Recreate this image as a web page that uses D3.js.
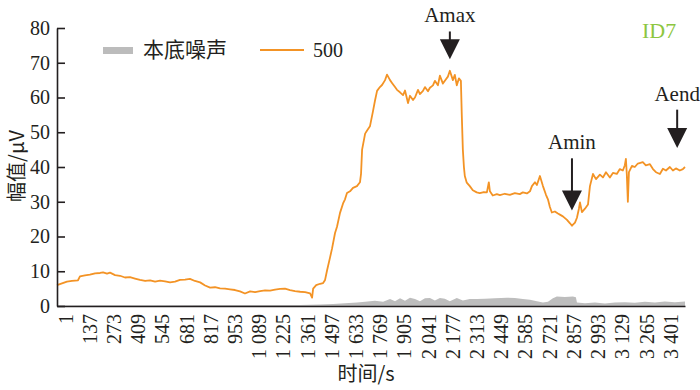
<!DOCTYPE html>
<html>
<head>
<meta charset="utf-8">
<script src="https://cdn.jsdelivr.net/npm/d3@7"></script>
<style>
  body { margin: 0; background: #fff; }
  svg text { font-family: 'Liberation Serif', 'Times New Roman', 'Noto Sans CJK SC', serif; fill: #231f20; }
</style>
</head>
<body>
<div id="chart"></div>
<script>
// time (s) and amplitude (μV) of the 500 series
const signalTime = [
  -44, -16, 12, 40, 74, 85, 113, 141, 170, 198, 215, 237, 254, 282, 310, 338, 366, 394, 422, 451,
  479, 507, 535, 563, 591, 619, 647, 675, 703, 731, 760, 788, 816, 844, 872, 900, 928, 956, 984, 1012,
  1041, 1069, 1097, 1125, 1153, 1181, 1209, 1237, 1265, 1293, 1322, 1350, 1378, 1389, 1395, 1412, 1434, 1451, 1462, 1473,
  1490, 1501, 1518, 1529, 1546, 1563, 1574, 1585, 1602, 1619, 1641, 1658, 1664, 1670, 1687, 1698, 1714, 1731, 1742, 1754,
  1770, 1782, 1799, 1810, 1827, 1838, 1855, 1866, 1883, 1900, 1911, 1928, 1939, 1956, 1967, 1984, 1995, 2012, 2023, 2040,
  2051, 2068, 2079, 2096, 2107, 2124, 2135, 2152, 2163, 2180, 2191, 2202, 2214, 2225, 2230, 2236, 2242, 2247, 2258, 2275,
  2292, 2314, 2331, 2354, 2371, 2382, 2388, 2404, 2427, 2444, 2472, 2500, 2528, 2556, 2573, 2596, 2613, 2624, 2641, 2652,
  2669, 2686, 2703, 2714, 2725, 2736, 2753, 2770, 2781, 2798, 2821, 2838, 2849, 2866, 2877, 2888, 2894, 2905, 2922, 2939,
  2950, 2967, 2984, 3006, 3023, 3040, 3062, 3079, 3101, 3118, 3135, 3146, 3152, 3157, 3163, 3169, 3186, 3202, 3219, 3247,
  3264, 3287, 3304, 3321, 3343, 3360, 3377, 3399, 3416, 3433, 3455, 3472, 3484
];
const signalValue = [
  6.0, 6.5, 7.0, 7.2, 7.4, 8.5, 8.8, 9.0, 9.4, 9.5, 9.7, 9.3, 9.6, 8.9, 8.7, 8.2, 8.3, 7.9, 7.5, 7.2,
  7.4, 7.0, 7.3, 7.1, 6.8, 7.0, 7.5, 7.6, 7.8, 7.2, 6.8, 5.9, 5.3, 5.4, 5.1, 5.0, 4.8, 4.6, 4.2, 3.6,
  4.2, 4.0, 4.3, 4.5, 4.4, 4.7, 4.9, 5.0, 4.6, 4.3, 4.1, 4.0, 3.6, 2.4, 5.0, 6.0, 6.4, 6.6, 7.5, 10.2,
  14.0, 16.5, 21.0, 22.8, 26.8, 29.5, 30.7, 32.5, 33.0, 34.0, 34.5, 35.6, 38.0, 45.0, 49.6, 50.5, 51.7, 56.0, 59.0, 61.9,
  63.0, 63.6, 65.0, 66.6, 65.0, 64.2, 63.0, 62.2, 61.5, 60.7, 62.0, 58.4, 60.5, 59.3, 60.0, 62.2, 61.0, 61.9, 63.0, 61.8,
  62.8, 63.5, 64.8, 63.5, 66.3, 64.0, 64.8, 66.0, 67.7, 65.0, 66.5, 63.5, 65.5, 64.8, 55.0, 45.0, 40.0, 37.4, 35.5, 34.5,
  33.3, 32.7, 32.5, 32.8, 32.7, 35.6, 33.0, 31.8, 32.2, 31.9, 32.3, 32.0, 32.5, 32.2, 32.7, 32.4, 33.0, 34.5, 35.6, 34.8,
  37.4, 34.5, 32.0, 30.7, 28.5, 26.9, 27.2, 26.6, 26.3, 25.8, 24.8, 23.8, 23.1, 24.0, 25.4, 28.0, 29.8, 27.0, 28.0, 29.2,
  34.5, 38.0, 36.5, 37.8, 37.0, 38.5, 37.0, 38.3, 38.0, 39.4, 39.0, 40.5, 42.3, 38.0, 30.0, 38.5, 40.3, 40.0, 41.0, 41.4,
  40.5, 40.8, 39.4, 38.5, 38.0, 39.5, 39.0, 40.0, 39.0, 39.6, 39.0, 39.4, 40.0
];

// background noise (本底噪声)
const noiseTime = [
  -44, 198, 479, 760, 1041, 1322, 1434, 1507, 1574, 1641, 1687, 1742, 1788, 1827, 1855, 1883, 1911, 1939, 1967, 1995,
  2023, 2051, 2079, 2107, 2135, 2163, 2202, 2236, 2275, 2314, 2360, 2416, 2483, 2528, 2573, 2613, 2652, 2686, 2714, 2742,
  2764, 2809, 2854, 2871, 2877, 2922, 2978, 3034, 3090, 3146, 3202, 3259, 3315, 3371, 3427, 3484
];
const noiseValue = [
  0.15, 0.2, 0.2, 0.3, 0.3, 0.3, 0.4, 0.6, 0.8, 1.0, 1.2, 1.5, 1.2, 2.0, 1.4, 2.2, 1.5, 2.4, 2.0, 1.4,
  2.2, 2.3, 1.6, 2.3, 2.1, 1.4, 2.3, 1.6, 2.0, 2.0, 2.1, 2.2, 2.4, 2.3, 2.0, 1.8, 1.4, 1.0, 1.2, 2.2,
  2.7, 2.6, 2.7, 2.5, 1.0, 0.8, 1.0, 0.7, 1.0, 1.1, 0.9, 1.2, 1.0, 1.3, 1.1, 1.3
];

const xTickValues = [1, 137, 273, 409, 545, 681, 817, 953, 1089, 1225, 1361, 1497, 1633, 1769, 1905, 2041, 2177, 2313, 2449, 2585, 2721, 2857, 2993, 3129, 3265, 3401];
const xTickLabels = ["1", "137", "273", "409", "545", "681", "817", "953", "1 089", "1 225", "1 361", "1 497", "1 633", "1 769", "1 905", "2 041", "2 177", "2 313", "2 449", "2 585", "2 721", "2 857", "2 993", "3 129", "3 265", "3 401"];
const yTickValues = [0, 10, 20, 30, 40, 50, 60, 70, 80];

// annotations: label, time, arrow tip value, arrow top value
const markLabels = ["Amax", "Amin", "Aend"];
const markTime = [2163, 2849, 3440];
const markTip = [71.0, 27.5, 45.5];
const markTop = [79.0, 42.5, 56.5];

const width = 700, height = 390;
const orange = "#f39325";
const ink = "#231f20";
const serif = "'Liberation Serif', 'Times New Roman', serif";
const cjk = "'Noto Sans CJK SC', sans-serif";

const svg = d3.select("#chart").append("svg")
  .attr("width", width)
  .attr("height", height);

svg.append("rect").attr("width", width).attr("height", height).attr("fill", "#fff");

const x = d3.scaleLinear().domain([-44, 3484]).range([57, 685]);
const y = d3.scaleLinear().domain([0, 80]).range([306, 28]);

// noise area
const noise = noiseTime.map((t, i) => ({ t, v: noiseValue[i] }));
svg.append("path")
  .datum(noise)
  .attr("fill", "#bdbdbd")
  .attr("d", d3.area().x(d => x(d.t)).y0(y(0)).y1(d => y(d.v)));

// signal line
const signal = signalTime.map((t, i) => ({ t, v: signalValue[i] }));
svg.append("path")
  .datum(signal)
  .attr("fill", "none")
  .attr("stroke", orange)
  .attr("stroke-width", 1.8)
  .attr("stroke-linejoin", "round")
  .attr("d", d3.line().x(d => x(d.t)).y(d => y(d.v)));

// Y axis, ticks pointing inward
const yAxis = svg.append("g")
  .attr("transform", `translate(${x.range()[0]},0)`)
  .attr("font-family", serif)
  .call(d3.axisLeft(y).tickValues(yTickValues).tickSizeInner(-8).tickSizeOuter(0).tickPadding(7));
yAxis.attr("font-family", serif).attr("font-size", 20);

// X axis, rotated labels
const xAxis = svg.append("g")
  .attr("transform", `translate(0,${y(0)})`)
  .call(d3.axisBottom(x).tickValues(xTickValues).tickFormat((d, i) => xTickLabels[i]).tickSize(0).tickSizeOuter(0));
xAxis.attr("font-family", serif).attr("font-size", 20);
xAxis.selectAll("text")
  .attr("transform", "rotate(-90)")
  .attr("x", -8)
  .attr("y", 0)
  .attr("dy", "0.35em")
  .style("text-anchor", "end");

svg.selectAll(".domain, .tick line").attr("stroke", ink).attr("stroke-width", 1.6);
svg.selectAll(".tick text").style("font-family", serif).style("font-size", "20px").attr("fill", ink);

// axis titles
svg.append("text")
  .attr("x", 366).attr("y", 381)
  .attr("text-anchor", "middle")
  .style("font-size", "20px")
  .style("font-family", cjk)
  .text("时间/s");

svg.append("text")
  .attr("transform", "translate(24,166) rotate(-90)")
  .attr("text-anchor", "middle")
  .style("font-size", "20px")
  .style("font-family", cjk)
  .text("幅值/μV");

// legend
const legend = svg.append("g");
legend.append("rect").attr("x", 103).attr("y", 47).attr("width", 30).attr("height", 7).attr("fill", "#bcbcbc");
legend.append("text").attr("x", 143).attr("y", 57)
  .style("font-size", "21px")
  .style("font-family", cjk)
  .text("本底噪声");
legend.append("line").attr("x1", 260).attr("x2", 304).attr("y1", 50).attr("y2", 50)
  .attr("stroke", orange).attr("stroke-width", 1.8);
legend.append("text").attr("x", 313).attr("y", 57)
  .style("font-size", "20px")
  .style("font-family", serif)
  .text("500");

// ID label
svg.append("text")
  .attr("x", 642).attr("y", 38)
  .style("font-size", "22px")
  .style("font-family", serif)
  .style("fill", "#8dc63f")
  .text("ID7");

// arrows
markLabels.forEach((label, i) => {
  const ax = x(markTime[i]);
  const tip = y(markTip[i]);
  const top = y(markTop[i]);
  svg.append("line")
    .attr("x1", ax).attr("x2", ax)
    .attr("y1", top).attr("y2", tip - 10)
    .attr("stroke", ink).attr("stroke-width", 2);
  svg.append("path")
    .attr("d", `M${ax - 10},${tip - 20}L${ax + 10},${tip - 20}L${ax},${tip}Z`)
    .attr("fill", ink);
  svg.append("text")
    .attr("x", ax).attr("y", top - 9)
    .attr("text-anchor", "middle")
    .style("font-size", "21px")
    .style("font-family", serif)
    .text(label);
});
</script>
</body>
</html>
